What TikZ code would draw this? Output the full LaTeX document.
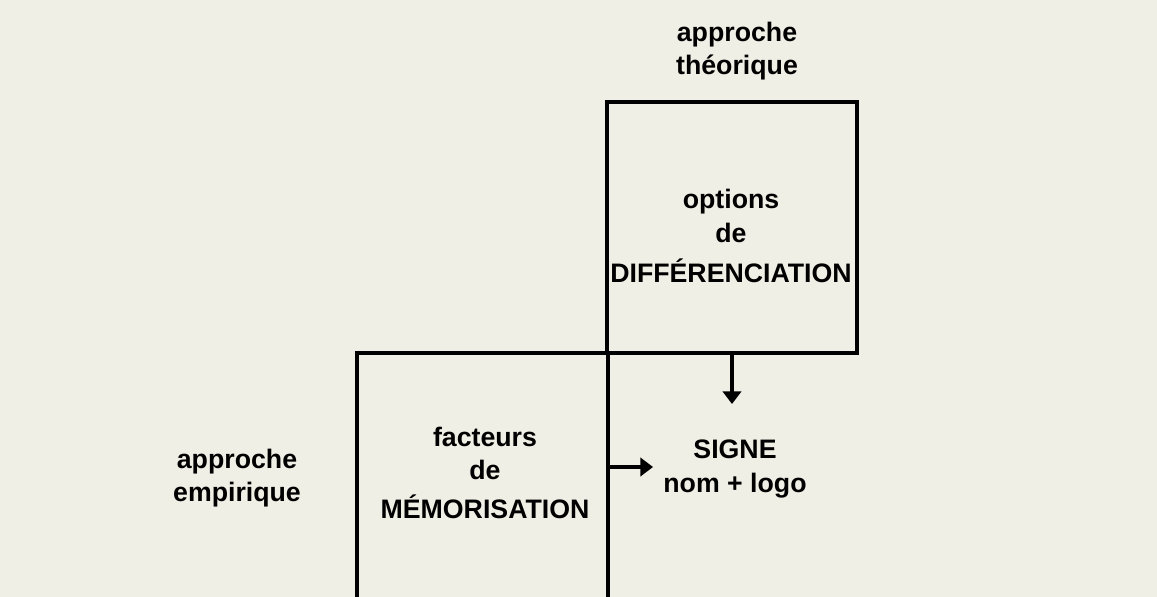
\documentclass[tikz,border=0pt]{standalone}
\usepackage{fontspec}
\setmainfont{Liberation Sans}
\usepackage{tikz}
\usetikzlibrary{arrows.meta,calc,positioning}
\definecolor{paper}{RGB}{240,239,229}

\begin{document}
\begin{tikzpicture}[->,>={Triangle[width=13pt,length=9pt]},x=0.025cm,y=-0.025cm,line width=2.7pt,
		box/.style={draw, rectangle, inner sep=0pt},
		txt/.style={align=center, font=\fontsize{19}{23.5}\selectfont\bfseries}]
					\fill[paper] (0,0) rectangle (1157,597);
					\clip (0,0) rectangle (1157,597);
					
					\node[box, minimum width=6.25cm, minimum height=6.275cm] (diff) at (732,227.5) {};
					\node[box, minimum width=6.275cm, minimum height=6.9cm] (memo) at (482.5,491) {};
					
					\node[txt] (theo) at (737,51) {approche\\théorique};
					\node[txt] (empi) at (237,478) {approche\\empirique};
					\node[txt] (opt) at (731,236) {options\\de\\[5pt]DIFFÉRENCIATION};
					\node[txt] (fact) at (485,473) {facteurs\\de\\[4pt]MÉMORISATION};
					\node[txt] (signe) at (735,469) {SIGNE\\nom + logo};
					
					\coordinate (tipS) at (732,404);
					\coordinate (tipE) at (653,467);
					\draw (diff.south) -- (tipS);
					\draw (memo.east |- tipE) -- (tipE);
					\end{tikzpicture}
\end{document}
